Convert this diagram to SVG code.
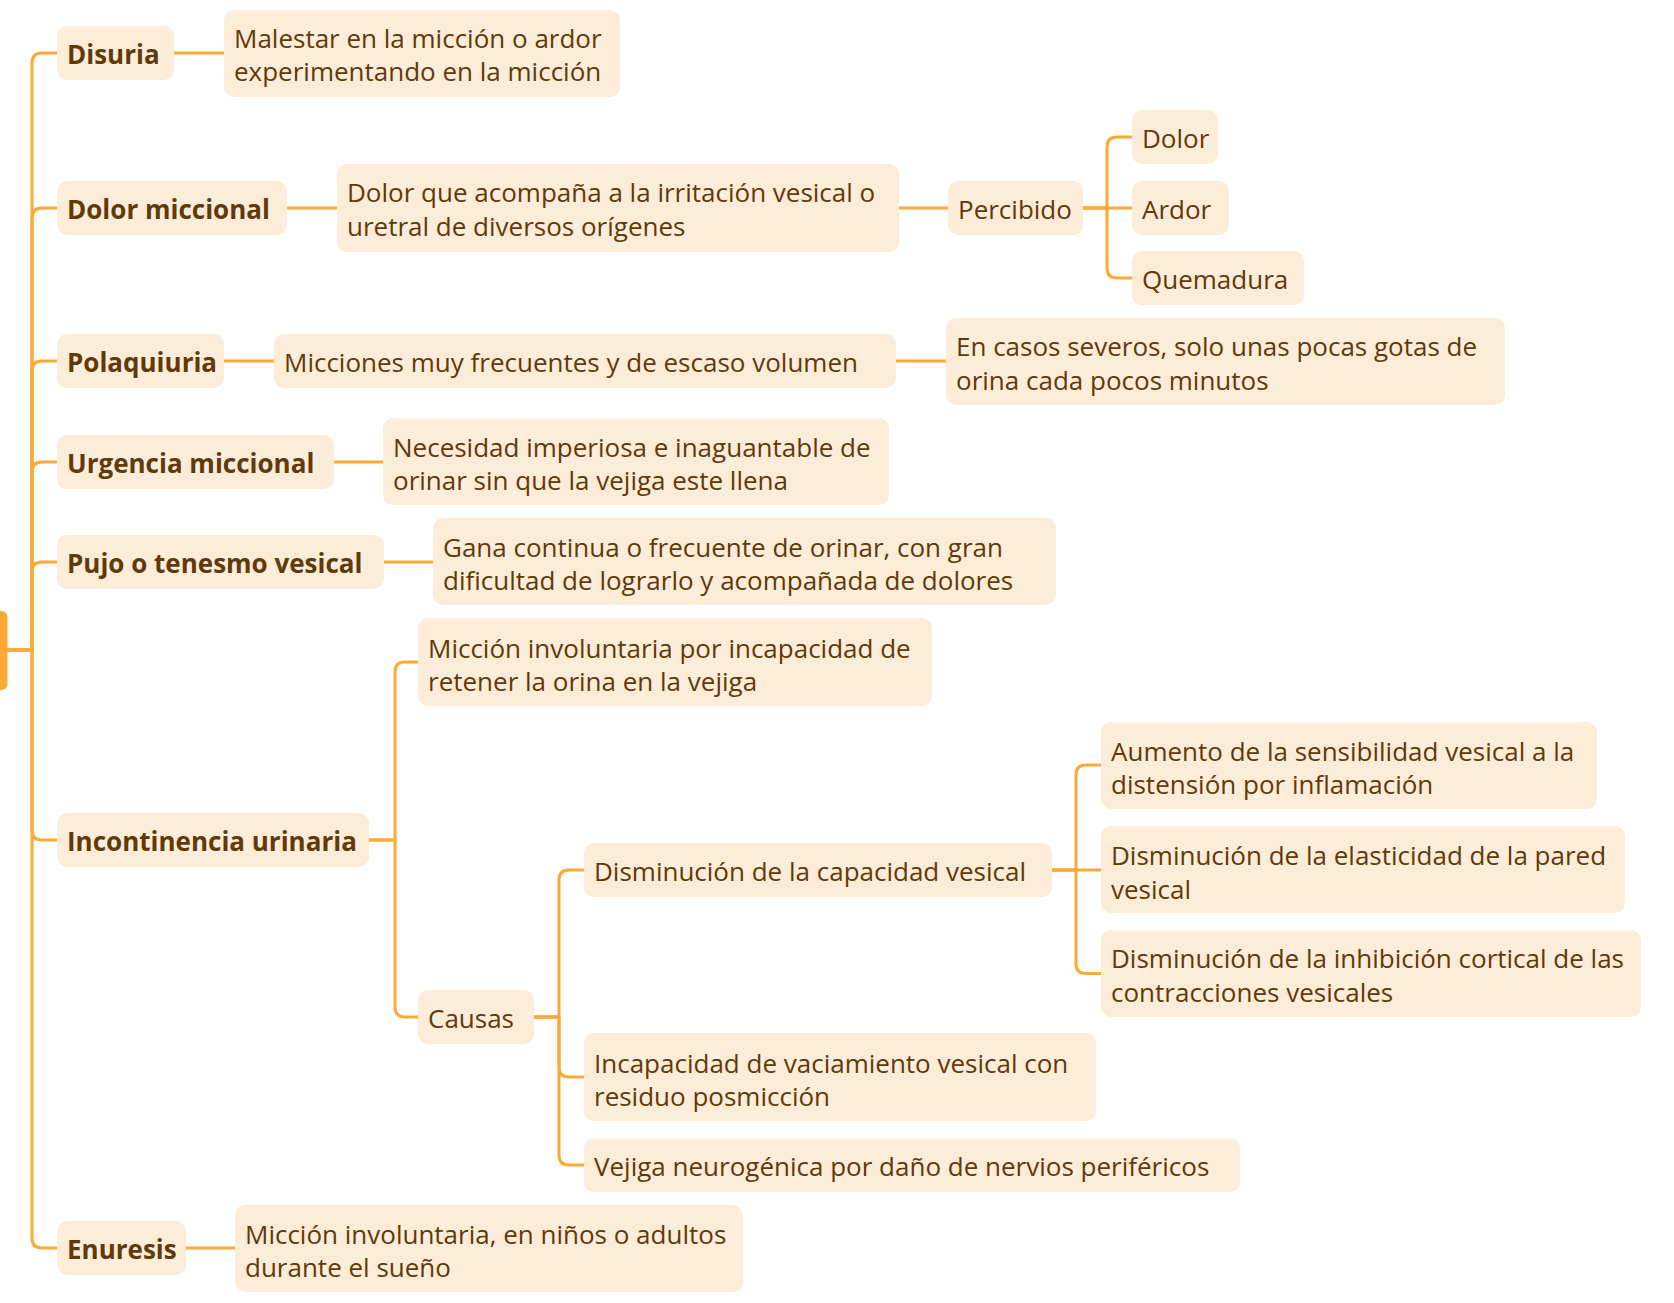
<svg xmlns="http://www.w3.org/2000/svg" width="1674" height="1303" viewBox="0 0 1674 1303">
<style>
.bx{fill:#fdecd8}
.t{font-family:"Open Sans",Lato,"Liberation Sans",sans-serif;font-size:26px;fill:#5f3a0a}
.b{font-weight:bold}
.c{fill:none;stroke:#fea935;stroke-width:3}
</style>
<rect width="1674" height="1303" fill="#ffffff"/>
<g id="connectors">
<path class="c" d="M7 650 H32 V63 Q32 53 42 53 H57"/>
<path class="c" d="M7 650 H32 V218 Q32 208 42 208 H57"/>
<path class="c" d="M7 650 H32 V371 Q32 361 42 361 H57"/>
<path class="c" d="M7 650 H32 V472 Q32 462 42 462 H57"/>
<path class="c" d="M7 650 H32 V572 Q32 562 42 562 H57"/>
<path class="c" d="M7 650 H32 V830 Q32 840 42 840 H57"/>
<path class="c" d="M7 650 H32 V1238 Q32 1248 42 1248 H57"/>
<path class="c" d="M174 53 H224"/>
<path class="c" d="M287 208 H337"/>
<path class="c" d="M899 208 H948"/>
<path class="c" d="M1083 208 H1107 V147 Q1107 137 1117 137 H1132"/>
<path class="c" d="M1083 208 H1132"/>
<path class="c" d="M1083 208 H1107 V268 Q1107 278 1117 278 H1132"/>
<path class="c" d="M224 361 H274"/>
<path class="c" d="M896 361 H946"/>
<path class="c" d="M334 462 H383"/>
<path class="c" d="M384 562 H433"/>
<path class="c" d="M369 840 H395 V672 Q395 662 405 662 H418"/>
<path class="c" d="M369 840 H395 V1007 Q395 1017 405 1017 H418"/>
<path class="c" d="M534 1017 H559 V880 Q559 870 569 870 H584"/>
<path class="c" d="M534 1017 H559 V1067 Q559 1077 569 1077 H584"/>
<path class="c" d="M534 1017 H559 V1155 Q559 1165 569 1165 H584"/>
<path class="c" d="M1052 870 H1076 V775 Q1076 765 1086 765 H1101"/>
<path class="c" d="M1052 870 H1101"/>
<path class="c" d="M1052 870 H1076 V963.5 Q1076 973.5 1086 973.5 H1101"/>
<path class="c" d="M186 1248 H235"/>
</g>
<g id="root"><rect x="-8" y="611" width="15.5" height="79" rx="6" fill="#fea935"/></g>
<g id="disuria"><rect class="bx" x="57" y="26" width="117" height="54" rx="10"/><text class="t b" x="67" y="63.5">Disuria</text></g>
<g id="disuria-desc"><rect class="bx" x="224" y="10" width="396" height="87" rx="10"/><text class="t" x="234" y="48">Malestar en la micción o ardor</text><text class="t" x="234" y="81">experimentando en la micción</text></g>
<g id="dolor-miccional"><rect class="bx" x="57" y="181" width="230" height="54" rx="10"/><text class="t b" x="67" y="218.5">Dolor miccional</text></g>
<g id="dolor-desc"><rect class="bx" x="337" y="164" width="562" height="88" rx="10"/><text class="t" x="347" y="201.5">Dolor que acompaña a la irritación vesical o</text><text class="t" x="347" y="235.5">uretral de diversos orígenes</text></g>
<g id="percibido"><rect class="bx" x="948" y="181" width="135" height="54" rx="10"/><text class="t" x="958" y="218.5">Percibido</text></g>
<g id="dolor"><rect class="bx" x="1132" y="110" width="86" height="54" rx="10"/><text class="t" x="1142" y="147.5">Dolor</text></g>
<g id="ardor"><rect class="bx" x="1132" y="181" width="97" height="54" rx="10"/><text class="t" x="1142" y="218.5">Ardor</text></g>
<g id="quemadura"><rect class="bx" x="1132" y="251" width="172" height="54" rx="10"/><text class="t" x="1142" y="288.5">Quemadura</text></g>
<g id="polaquiuria"><rect class="bx" x="57" y="334" width="167" height="54" rx="10"/><text class="t b" x="67" y="371.5">Polaquiuria</text></g>
<g id="polaquiuria-desc"><rect class="bx" x="274" y="334" width="622" height="54" rx="10"/><text class="t" x="284" y="371.5">Micciones muy frecuentes y de escaso volumen</text></g>
<g id="casos-severos"><rect class="bx" x="946" y="318" width="559" height="87" rx="10"/><text class="t" x="956" y="355.5">En casos severos, solo unas pocas gotas de</text><text class="t" x="956" y="389.5">orina cada pocos minutos</text></g>
<g id="urgencia"><rect class="bx" x="57" y="435" width="277" height="54" rx="10"/><text class="t b" x="67" y="472.5">Urgencia miccional</text></g>
<g id="urgencia-desc"><rect class="bx" x="383" y="418" width="506" height="87" rx="10"/><text class="t" x="393" y="456.5">Necesidad imperiosa e inaguantable de</text><text class="t" x="393" y="489.5">orinar sin que la vejiga este llena</text></g>
<g id="pujo"><rect class="bx" x="57" y="535" width="327" height="54" rx="10"/><text class="t b" x="67" y="572.5">Pujo o tenesmo vesical</text></g>
<g id="pujo-desc"><rect class="bx" x="433" y="518" width="623" height="87" rx="10"/><text class="t" x="443" y="557">Gana continua o frecuente de orinar, con gran</text><text class="t" x="443" y="590">dificultad de lograrlo y acompañada de dolores</text></g>
<g id="incontinencia"><rect class="bx" x="57" y="813" width="312" height="54" rx="10"/><text class="t b" x="67" y="850.5">Incontinencia urinaria</text></g>
<g id="incontinencia-desc"><rect class="bx" x="418" y="618" width="514" height="88" rx="10"/><text class="t" x="428" y="657.5">Micción involuntaria por incapacidad de</text><text class="t" x="428" y="690.5">retener la orina en la vejiga</text></g>
<g id="causas"><rect class="bx" x="418" y="990" width="116" height="54" rx="10"/><text class="t" x="428" y="1027.5">Causas</text></g>
<g id="capacidad"><rect class="bx" x="584" y="843" width="468" height="54" rx="10"/><text class="t" x="594" y="880.5">Disminución de la capacidad vesical</text></g>
<g id="aumento"><rect class="bx" x="1101" y="722" width="496" height="87" rx="10"/><text class="t" x="1111" y="761">Aumento de la sensibilidad vesical a la</text><text class="t" x="1111" y="794">distensión por inflamación</text></g>
<g id="elasticidad"><rect class="bx" x="1101" y="826" width="524" height="87" rx="10"/><text class="t" x="1111" y="864.5">Disminución de la elasticidad de la pared</text><text class="t" x="1111" y="898.5">vesical</text></g>
<g id="inhibicion"><rect class="bx" x="1101" y="930" width="540" height="87" rx="10"/><text class="t" x="1111" y="968">Disminución de la inhibición cortical de las</text><text class="t" x="1111" y="1002">contracciones vesicales</text></g>
<g id="incapacidad"><rect class="bx" x="584" y="1033" width="512" height="88" rx="10"/><text class="t" x="594" y="1072.5">Incapacidad de vaciamiento vesical con</text><text class="t" x="594" y="1105.5">residuo posmicción</text></g>
<g id="vejiga"><rect class="bx" x="584" y="1138" width="656" height="54" rx="10"/><text class="t" x="594" y="1175.5">Vejiga neurogénica por daño de nervios periféricos</text></g>
<g id="enuresis"><rect class="bx" x="57" y="1221" width="129" height="54" rx="10"/><text class="t b" x="67" y="1258.5">Enuresis</text></g>
<g id="enuresis-desc"><rect class="bx" x="235" y="1205" width="508" height="87" rx="10"/><text class="t" x="245" y="1243.5">Micción involuntaria, en niños o adultos</text><text class="t" x="245" y="1276.5">durante el sueño</text></g>
</svg>
